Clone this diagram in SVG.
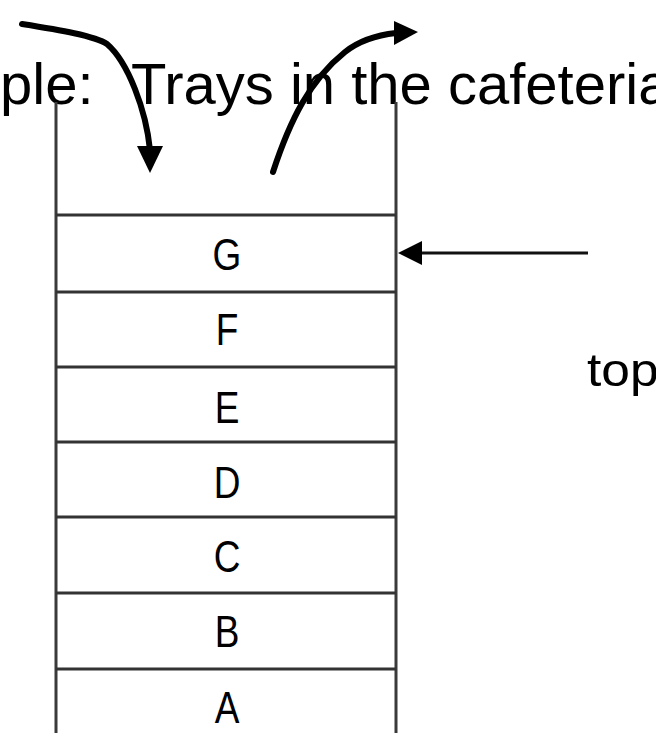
<svg xmlns="http://www.w3.org/2000/svg" width="656" height="733" viewBox="0 0 656 733">
<style>
.t{font-family:"Liberation Sans",Arial,sans-serif;fill:#000}
.wall{stroke:#3a3a3a;stroke-width:3;fill:none}
.sep{stroke:#333;stroke-width:3}
.lbl{font-family:"Liberation Sans",Arial,sans-serif;font-size:37px;fill:#000;text-anchor:middle}
.curve{stroke:#000;stroke-width:6;fill:none;stroke-linecap:round}
</style>
<rect width="656" height="733" fill="#fff"/>
<text class="t" font-size="58" y="104"><tspan x="0">ple:</tspan><tspan x="131">Trays in the cafeteria</tspan></text>
<g id="stack">
<line class="wall" x1="56" y1="102" x2="56" y2="733"/>
<line class="wall" x1="396" y1="102" x2="396" y2="733"/>
</g>
<g id="tray-G"><line class="sep" x1="56" y1="215" x2="396" y2="215"/><text class="lbl" transform="translate(227,270) scale(1,1.2)">G</text></g>
<g id="tray-F"><line class="sep" x1="56" y1="292" x2="396" y2="292"/><text class="lbl" transform="translate(227,345) scale(1,1.2)">F</text></g>
<g id="tray-E"><line class="sep" x1="56" y1="367" x2="396" y2="367"/><text class="lbl" transform="translate(227,423) scale(1,1.2)">E</text></g>
<g id="tray-D"><line class="sep" x1="56" y1="442" x2="396" y2="442"/><text class="lbl" transform="translate(227,498) scale(1,1.2)">D</text></g>
<g id="tray-C"><line class="sep" x1="56" y1="517" x2="396" y2="517"/><text class="lbl" transform="translate(227,572) scale(1,1.2)">C</text></g>
<g id="tray-B"><line class="sep" x1="56" y1="593" x2="396" y2="593"/><text class="lbl" transform="translate(227,647) scale(1,1.2)">B</text></g>
<g id="tray-A"><line class="sep" x1="56" y1="669" x2="396" y2="669"/><text class="lbl" transform="translate(227,723) scale(1,1.2)">A</text></g>
<g id="top-label"><text class="t" font-size="46" transform="translate(587,386) scale(1.12,1)">top</text></g>
<g id="connectors">
<path class="curve" d="M22,24 C60,30 95,36 107,44 C128,62 146,110 150,150"/>
<polygon points="137,146 163,146 150,173" fill="#000"/>
<path class="curve" d="M273,172 C290,120 310,80 345,52 C360,40 378,35 396,33"/>
<polygon points="394,21 394,45 418,32" fill="#000"/>
<line x1="588" y1="253" x2="416" y2="253" stroke="#111" stroke-width="3"/>
<polygon points="398,253 422,241 422,265" fill="#000"/>
</g>
</svg>
